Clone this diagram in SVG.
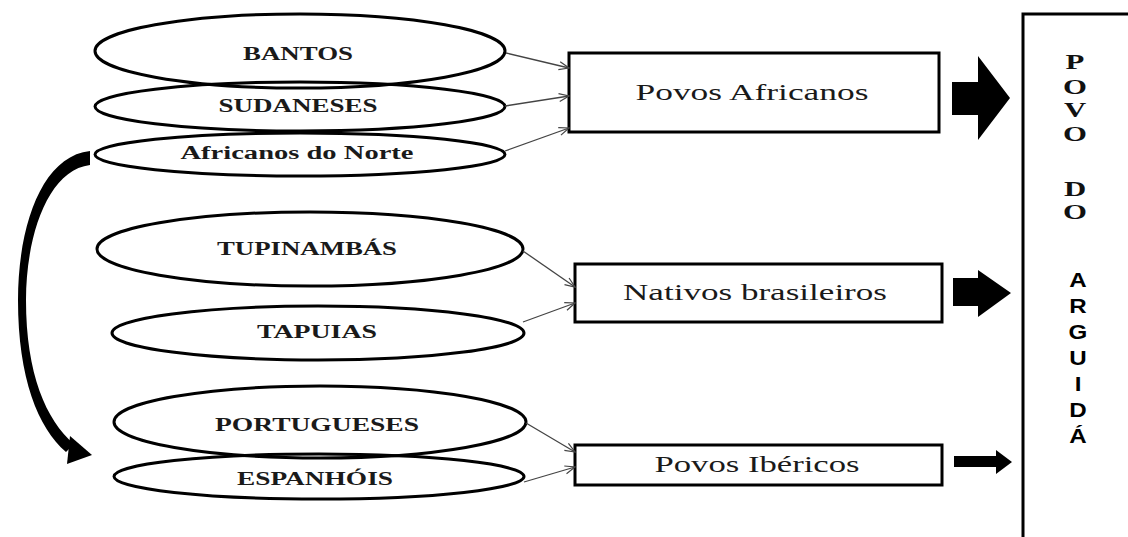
<svg xmlns="http://www.w3.org/2000/svg" width="1128" height="537" viewBox="0 0 1128 537">
<style>
.ell{fill:none;stroke:#000;stroke-width:3}
.lbl{font-family:"Liberation Serif","Times New Roman",serif;font-weight:bold;font-size:18px;text-anchor:middle;fill:#1a1a1a}
.box{fill:#fff;stroke:#000;stroke-width:3}
.btxt{font-family:"Liberation Serif","Times New Roman",serif;font-size:23.5px;text-anchor:middle;fill:#1a1a1a}
.con{fill:none;stroke:#444;stroke-width:1.3}
.big{fill:#000}
.vs{font-family:"Liberation Serif","Times New Roman",serif;font-weight:bold;font-size:22px;text-anchor:middle;fill:#111}
.vss{font-family:"Liberation Sans",Arial,sans-serif;font-weight:bold;font-size:21px;text-anchor:middle;fill:#000}
</style>
<defs>
<marker id="open" viewBox="0 0 12 10" refX="11" refY="5" markerWidth="12" markerHeight="10" markerUnits="userSpaceOnUse" orient="auto">
<path d="M1,1 L11,5 L1,9" fill="none" stroke="#444" stroke-width="1.2"/>
</marker>
</defs>
<rect width="1128" height="537" fill="#fff"/>

<g id="bantos"><ellipse class="ell" cx="300" cy="51" rx="205" ry="37"/><text class="lbl" x="298" y="60" textLength="110" lengthAdjust="spacingAndGlyphs">BANTOS</text></g>
<g id="sudaneses"><ellipse class="ell" cx="300" cy="106.5" rx="205" ry="24.5"/><text class="lbl" x="298" y="112" textLength="159" lengthAdjust="spacingAndGlyphs">SUDANESES</text></g>
<g id="africanos-norte"><ellipse class="ell" cx="300" cy="154.5" rx="205" ry="21.5"/><text class="lbl" x="297" y="159" textLength="233" lengthAdjust="spacingAndGlyphs">Africanos do Norte</text></g>
<g id="tupinambas"><ellipse class="ell" cx="310" cy="249" rx="213" ry="37"/><text class="lbl" x="307" y="255" textLength="180" lengthAdjust="spacingAndGlyphs">TUPINAMBÁS</text></g>
<g id="tapuias"><ellipse class="ell" cx="318" cy="333" rx="206" ry="27"/><text class="lbl" x="317" y="338" textLength="120" lengthAdjust="spacingAndGlyphs">TAPUIAS</text></g>
<g id="portugueses"><ellipse class="ell" cx="320" cy="422" rx="206" ry="36"/><text class="lbl" x="317" y="431" textLength="204" lengthAdjust="spacingAndGlyphs">PORTUGUESES</text></g>
<g id="espanhois"><ellipse class="ell" cx="319" cy="476.5" rx="205" ry="22.5"/><text class="lbl" x="315" y="485" textLength="156" lengthAdjust="spacingAndGlyphs">ESPANHÓIS</text></g>

<g id="povos-africanos"><rect class="box" x="569" y="53" width="370" height="79"/><text class="btxt" x="752" y="100" textLength="233" lengthAdjust="spacingAndGlyphs">Povos Africanos</text></g>
<g id="nativos-brasileiros"><rect class="box" x="575" y="264" width="367" height="58"/><text class="btxt" x="755" y="300" textLength="264" lengthAdjust="spacingAndGlyphs">Nativos brasileiros</text></g>
<g id="povos-ibericos"><rect class="box" x="575" y="445" width="367" height="40"/><text class="btxt" x="757" y="472" textLength="205" lengthAdjust="spacingAndGlyphs">Povos Ibéricos</text></g>

<g id="povo-arguida">
<rect class="box" x="1023" y="14" width="200" height="600"/>
<g transform="translate(1075,0) scale(1.4,1)">
<text class="vs" x="0" y="69">P</text>
<text class="vs" x="0" y="94">O</text>
<text class="vs" x="0" y="117">V</text>
<text class="vs" x="0" y="141">O</text>
<text class="vs" x="0" y="196">D</text>
<text class="vs" x="0" y="219">O</text>
</g>
<g transform="translate(1078,0) scale(1.15,1)">
<text class="vss" x="0" y="287">A</text>
<text class="vss" x="0" y="313">R</text>
<text class="vss" x="0" y="339">G</text>
<text class="vss" x="0" y="365">U</text>
<text class="vss" x="0" y="391">I</text>
<text class="vss" x="0" y="417">D</text>
<text class="vss" x="0" y="443">Á</text>
</g>
</g>

<g id="connectors">
<line class="con" x1="506" y1="53" x2="569" y2="68" marker-end="url(#open)"/>
<line class="con" x1="505" y1="106" x2="569" y2="96" marker-end="url(#open)"/>
<line class="con" x1="505" y1="151" x2="569" y2="128" marker-end="url(#open)"/>
<line class="con" x1="523" y1="251" x2="575" y2="287" marker-end="url(#open)"/>
<line class="con" x1="523" y1="322" x2="575" y2="303" marker-end="url(#open)"/>
<line class="con" x1="526" y1="423" x2="575" y2="452" marker-end="url(#open)"/>
<line class="con" x1="524" y1="482" x2="575" y2="467" marker-end="url(#open)"/>
<polygon class="big" points="952,82 978,82 978,56 1010,98 978,140 978,115 952,115"/>
<polygon class="big" points="953,278 978,278 978,270 1011,293 978,317 978,306 953,306"/>
<polygon class="big" points="954,456 996,456 996,450 1012,462 996,474 996,467 954,467"/>
<path class="big" d="M90,151 C42,156 18,226 18,300 C18,378 38,428 66,452 L74,444 C46,420 26,374 26,300 C26,236 48,170 90,165 Z"/>
<polygon class="big" points="92,455 70,436 67,464"/>
</g>
</svg>
